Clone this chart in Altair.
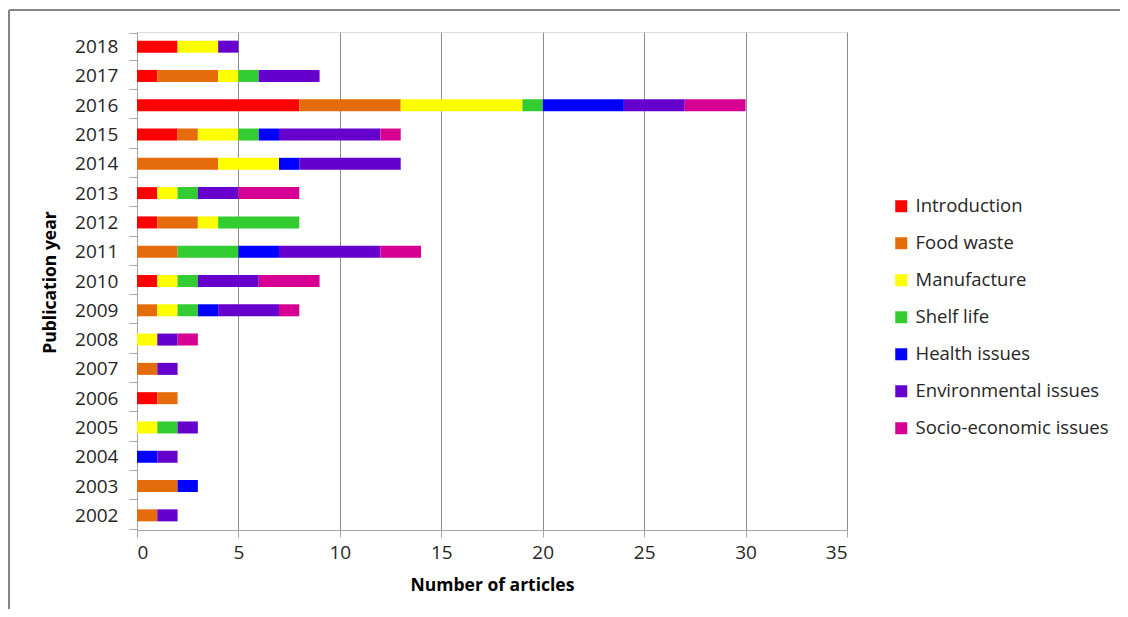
import altair as alt
import pandas as pd

years = ["2018", "2017", "2016", "2015", "2014", "2013", "2012", "2011", "2010",
         "2009", "2008", "2007", "2006", "2005", "2004", "2003", "2002"]
categories = ["Introduction", "Food waste", "Manufacture", "Shelf life",
              "Health issues", "Environmental issues", "Socio-economic issues"]
colors = ["#FF0000", "#E46C0A", "#FFFF00", "#33CC33", "#0000FF", "#6600CC", "#D60093"]

introduction = [2, 1, 8, 2, 0, 1, 1, 0, 1, 0, 0, 0, 1, 0, 0, 0, 0]
food_waste = [0, 3, 5, 1, 4, 0, 2, 2, 0, 1, 0, 1, 1, 0, 0, 2, 1]
manufacture = [2, 1, 6, 2, 3, 1, 1, 0, 1, 1, 1, 0, 0, 1, 0, 0, 0]
shelf_life = [0, 1, 1, 1, 0, 1, 4, 3, 1, 1, 0, 0, 0, 1, 0, 0, 0]
health_issues = [0, 0, 4, 1, 1, 0, 0, 2, 0, 1, 0, 0, 0, 0, 1, 1, 0]
environmental = [1, 3, 3, 5, 5, 2, 0, 5, 3, 3, 1, 1, 0, 1, 1, 0, 1]
socio_economic = [0, 0, 3, 1, 0, 3, 0, 2, 3, 1, 1, 0, 0, 0, 0, 0, 0]

series = [introduction, food_waste, manufacture, shelf_life,
          health_issues, environmental, socio_economic]

rows = []
for ci, (cat, vals) in enumerate(zip(categories, series)):
    for y, v in zip(years, vals):
        if v > 0:
            rows.append({"year": y, "category": cat, "order": ci, "count": v})
df = pd.DataFrame(rows)

FONT = "Open Sans"

bars = alt.Chart(df).mark_bar(size=12).encode(
    y=alt.Y("year:N", sort=years,
            axis=alt.Axis(title="Publication year", tickBand="extent", tickSize=8,
                          labelPadding=11, labelFontSize=19, labelColor="#262626",
                          labelFont=FONT, domainColor="#A6A6A6", tickColor="#A6A6A6",
                          titleFont=FONT, titleFontSize=17.5, titleFontWeight="bold",
                          titleColor="#000000", titleX=-87, titleY=250,
                          titleAngle=270, titleAlign="center", titleBaseline="middle")),
    x=alt.X("count:Q", stack="zero",
            scale=alt.Scale(domain=[0, 35], nice=False),
            axis=alt.Axis(title="Number of articles", values=[0, 5, 10, 15, 20, 25, 30, 35],
                          grid=True, gridColor="#8C8C8C", tickSize=7, labelPadding=6,
                          labelFontSize=19, labelColor="#262626", labelFont=FONT,
                          domainColor="#A6A6A6", tickColor="#A6A6A6",
                          titleFont=FONT, titleFontSize=17.5, titleFontWeight="bold",
                          titleColor="#000000", titlePadding=14)),
    color=alt.Color("category:N",
                    scale=alt.Scale(domain=categories, range=colors),
                    legend=alt.Legend(title=None, orient="none", legendX=755, legendY=165,
                                      symbolType="square", symbolSize=144,
                                      symbolStrokeWidth=0, labelFont=FONT,
                                      labelFontSize=18.5, labelColor="#262626",
                                      labelLimit=400, rowPadding=18, labelOffset=5)),
    order=alt.Order("order:Q"),
)

# outer chart border (decoration, partly cropped like the reference)
frame_src = pd.DataFrame({"k": [0]})
frame_top = alt.Chart(frame_src).mark_rule(color="#868686", strokeWidth=2).encode(
    x=alt.value(-128), x2=alt.value(990), y=alt.value(-22), y2=alt.value(-22))
frame_left = alt.Chart(frame_src).mark_rule(color="#868686", strokeWidth=2).encode(
    x=alt.value(-128), x2=alt.value(-128), y=alt.value(-22), y2=alt.value(600))

chart = alt.layer(bars, frame_top, frame_left).properties(
    width=710, height=498,
    autosize=alt.AutoSizeParams(type="none"),
    padding={"left": 129, "top": 24, "right": 273, "bottom": 79},
).configure_view(stroke=None).configure(background="white")

chart.save("out.html", embed_options={"renderer": "svg", "actions": False})
